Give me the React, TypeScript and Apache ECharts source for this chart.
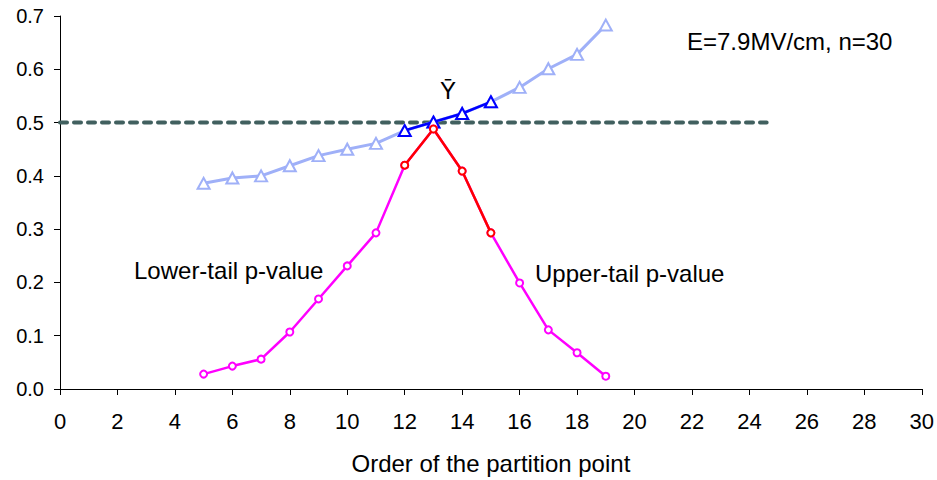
import React, { useEffect, useRef } from "react";
import * as echarts from "echarts";

const orders = [5, 6, 7, 8, 9, 10, 11, 12, 13, 14, 15, 16, 17, 18, 19];
const yBarValues = [0.386, 0.396, 0.4, 0.419, 0.438, 0.45, 0.461, 0.485, 0.501, 0.517, 0.539, 0.566, 0.601, 0.628, 0.683];
const pValues = [0.028, 0.043, 0.056, 0.107, 0.169, 0.231, 0.293, 0.42, 0.488, 0.409, 0.293, 0.199, 0.111, 0.068, 0.024];
const highlightOrders = [12, 13, 14, 15];
const refLineX = [0, 24.6];
const refLineY = 0.5;
const xTicks = { min: 0, max: 30, interval: 2 };
const yTicks = { min: 0, max: 0.7, interval: 0.1 };
const xAxisTitle = "Order of the partition point";
const annotationCondition = "E=7.9MV/cm, n=30";
const annotationYBar = "Ȳ";
const annotationLower = "Lower-tail p-value";
const annotationUpper = "Upper-tail p-value";

const FONT = "'Liberation Sans', Arial, sans-serif";

function pairs(xs: number[], ys: number[]) {
  return xs.map((x, i) => [x, ys[i]]);
}
function pick(xs: number[], ys: number[], sel: number[]) {
  return xs.map((x, i) => [x, ys[i]]).filter((p) => sel.includes(p[0]));
}

export default function App() {
  const ref = useRef<HTMLDivElement>(null);
  useEffect(() => {
    document.body.style.margin = "0";
    if (!ref.current) return;
    const chart = echarts.init(ref.current, undefined, { renderer: "svg" });
    const mk = (c: string) => ({ color: "#ffffff", borderColor: c, borderWidth: 2 });
    chart.setOption({
      animation: false,
      backgroundColor: "#ffffff",
      grid: { left: 60, right: 13, top: 16, bottom: 91, containLabel: false },
      xAxis: {
        type: "value",
        min: xTicks.min,
        max: xTicks.max,
        interval: xTicks.interval,
        name: xAxisTitle,
        nameLocation: "middle",
        nameGap: 62,
        nameTextStyle: { fontFamily: FONT, fontSize: 24, color: "#000" },
        axisLine: { show: true, lineStyle: { color: "#000", width: 1 } },
        axisTick: { show: true, length: 6, lineStyle: { color: "#000" } },
        axisLabel: { fontFamily: FONT, fontSize: 22, color: "#000", margin: 21 },
        splitLine: { show: false },
      },
      yAxis: {
        type: "value",
        min: yTicks.min,
        max: yTicks.max,
        interval: yTicks.interval,
        axisLine: { show: true, lineStyle: { color: "#000", width: 1 } },
        axisTick: { show: true, length: 6, lineStyle: { color: "#000" } },
        axisLabel: {
          fontFamily: FONT,
          fontSize: 20,
          color: "#000",
          margin: 16,
          formatter: (v: number) => v.toFixed(1),
        },
        splitLine: { show: false },
      },
      series: [
        {
          type: "line",
          data: refLineX.map((x) => [x, refLineY]),
          showSymbol: false,
          symbol: "none",
          lineStyle: { color: "#41605f", width: 4, type: [7, 7], cap: "round" },
          z: 1,
        },
        {
          type: "line",
          data: pairs(orders, yBarValues),
          symbol: "triangle",
          symbolSize: [12, 11],
          lineStyle: { color: "#9fb0f8", width: 3 },
          itemStyle: mk("#9fb0f8"),
          z: 2,
        },
        {
          type: "line",
          data: pick(orders, yBarValues, highlightOrders),
          symbol: "triangle",
          symbolSize: [12, 11],
          lineStyle: { color: "#0000ff", width: 2.5 },
          itemStyle: mk("#0000ff"),
          z: 3,
        },
        {
          type: "line",
          data: pairs(orders, pValues),
          symbol: "circle",
          symbolSize: 7,
          lineStyle: { color: "#ff00ff", width: 2.5 },
          itemStyle: mk("#ff00ff"),
          z: 4,
        },
        {
          type: "line",
          data: pick(orders, pValues, highlightOrders),
          symbol: "circle",
          symbolSize: 7,
          lineStyle: { color: "#ff0000", width: 2.5 },
          itemStyle: mk("#ff0000"),
          z: 5,
        },
      ],
      graphic: [
        {
          type: "text",
          x: 687,
          y: 41,
          style: { text: annotationCondition, font: `24px ${FONT}`, fill: "#000", textAlign: "left", textVerticalAlign: "middle" },
        },
        {
          type: "text",
          x: 448,
          y: 90,
          style: { text: annotationYBar, font: `24px ${FONT}`, fill: "#000", textAlign: "center", textVerticalAlign: "middle" },
        },
        {
          type: "text",
          x: 134,
          y: 270,
          style: { text: annotationLower, font: `24px ${FONT}`, fill: "#000", textAlign: "left", textVerticalAlign: "middle" },
        },
        {
          type: "text",
          x: 535,
          y: 273,
          style: { text: annotationUpper, font: `24px ${FONT}`, fill: "#000", textAlign: "left", textVerticalAlign: "middle" },
        },
      ],
    });
    return () => chart.dispose();
  }, []);
  return <div ref={ref} style={{ width: 937, height: 480 }} />;
}
